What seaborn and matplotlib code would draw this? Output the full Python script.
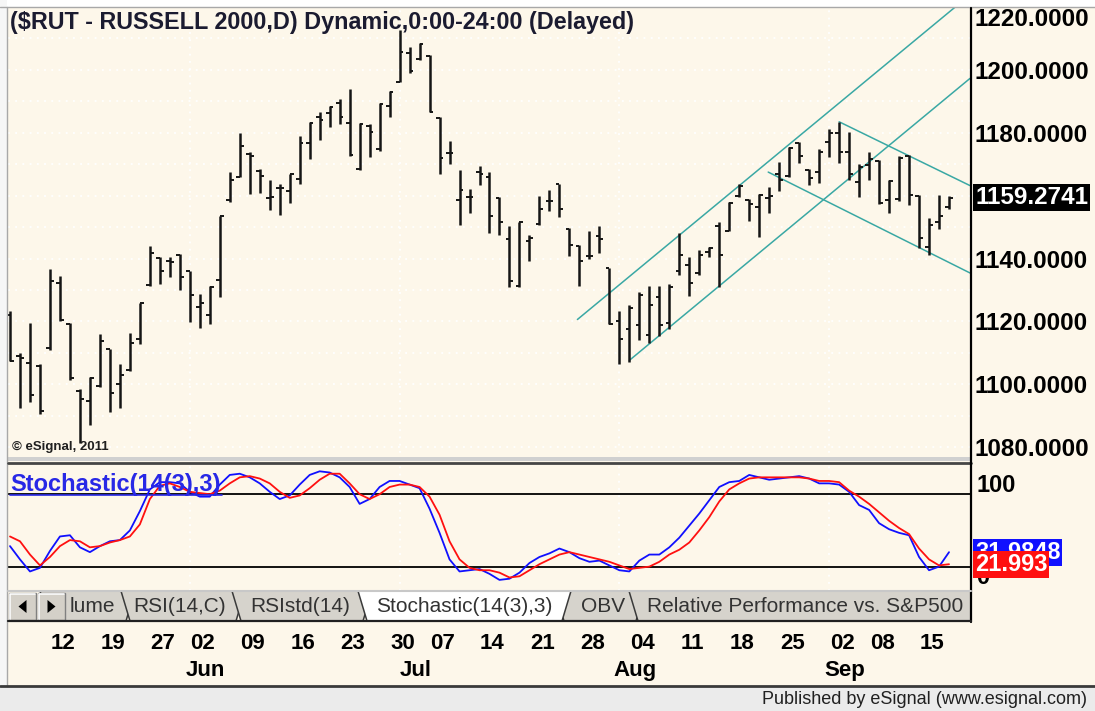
import numpy as np
import pandas as pd
import matplotlib
matplotlib.use("Agg")
import matplotlib.pyplot as plt
import matplotlib.transforms as mtransforms
from matplotlib.patches import Rectangle, Polygon
import seaborn as sns

# trading days on the chart: 5 May - 17 Sep 2014, market holidays dropped
holidays = ["2014-05-26", "2014-07-04", "2014-09-01"]
dates = pd.bdate_range("2014-05-05", "2014-09-17")
dates = dates[~dates.isin(pd.to_datetime(holidays))]

# daily OHLC
opens = [1122.0, 1109.0, 1106.8, 1105.7, 1111.5, 1132.2, 1119.2, 1098.0, 1094.6, 1099.4,
         1111.2, 1100.1, 1104.4, 1114.3, 1131.6, 1140.3, 1139.3, 1141.2, 1136.0, 1124.6,
         1122.0, 1133.3, 1158.5, 1166.0, 1173.2, 1168.0, 1159.1, 1162.3, 1161.4, 1165.4,
         1176.6, 1184.9, 1186.2, 1189.4, 1183.0, 1168.6, 1182.1, 1175.0, 1188.5, 1196.3,
         1205.3, 1203.4, 1204.5, 1184.7, 1173.5, 1158.5, 1159.7, 1167.5, 1165.9, 1159.2,
         1146.2, 1131.3, 1145.7, 1151.0, 1158.3, 1163.6, 1149.4, 1144.1, 1140.7, 1147.3,
         1136.9, 1120.1, 1117.5, 1118.8, 1115.7, 1127.6, 1119.4, 1136.1, 1138.0, 1135.3,
         1142.0, 1150.5, 1148.9, 1160.0, 1158.5, 1156.5, 1159.3, 1166.8, 1166.2, 1176.6,
         1168.3, 1167.5, 1177.1, 1179.8, 1173.9, 1164.3, 1169.6, 1171.0, 1158.7, 1159.0,
         1172.5, 1159.8, 1143.8, 1151.5, 1156.5]
highs = [1123.3, 1110.0, 1119.6, 1106.6, 1136.8, 1134.3, 1119.6, 1098.5, 1102.3, 1115.9,
         1111.3, 1106.6, 1116.4, 1126.0, 1143.9, 1140.6, 1140.6, 1141.4, 1136.1, 1128.7,
         1131.1, 1153.5, 1167.5, 1179.8, 1173.9, 1168.6, 1164.9, 1163.8, 1167.0, 1178.9,
         1183.5, 1186.7, 1188.5, 1190.6, 1193.8, 1183.0, 1182.7, 1189.4, 1193.3, 1212.8,
         1207.3, 1208.5, 1204.8, 1184.9, 1177.4, 1168.3, 1162.2, 1169.4, 1167.5, 1159.5,
         1150.2, 1151.5, 1147.6, 1159.9, 1161.7, 1163.8, 1149.6, 1144.4, 1148.9, 1150.2,
         1136.9, 1123.3, 1125.2, 1129.2, 1131.3, 1131.1, 1131.8, 1148.2, 1140.6, 1142.7,
         1143.8, 1151.5, 1157.9, 1163.8, 1159.0, 1160.4, 1162.9, 1170.7, 1175.5, 1177.1,
         1168.6, 1174.7, 1181.1, 1183.5, 1180.3, 1170.2, 1173.9, 1171.2, 1164.9, 1172.5,
         1172.8, 1160.1, 1152.9, 1160.1, 1159.9]
lows = [1107.3, 1092.4, 1094.2, 1090.6, 1111.0, 1120.1, 1101.5, 1081.2, 1087.1, 1099.1,
        1091.2, 1092.4, 1104.2, 1112.9, 1131.4, 1132.0, 1134.0, 1130.0, 1119.8, 1117.8,
        1119.3, 1127.6, 1157.9, 1165.9, 1160.6, 1160.8, 1155.5, 1153.7, 1157.7, 1163.8,
        1171.8, 1177.6, 1181.9, 1182.7, 1172.6, 1168.3, 1172.3, 1174.2, 1185.1, 1196.1,
        1198.9, 1203.2, 1186.7, 1166.8, 1170.0, 1150.8, 1154.4, 1163.5, 1148.1, 1147.5,
        1130.8, 1131.0, 1139.1, 1150.8, 1155.0, 1153.1, 1140.9, 1131.3, 1139.8, 1141.6,
        1119.3, 1106.5, 1107.1, 1114.0, 1113.2, 1115.3, 1117.5, 1134.8, 1128.1, 1134.8,
        1140.6, 1131.0, 1148.9, 1159.5, 1151.9, 1146.7, 1154.4, 1161.4, 1165.9, 1170.4,
        1163.5, 1164.0, 1172.3, 1170.3, 1165.0, 1159.5, 1165.1, 1157.2, 1154.4, 1158.2,
        1156.9, 1143.5, 1141.2, 1149.4, 1155.8]
closes = [1107.3, 1108.3, 1096.5, 1091.4, 1132.9, 1120.5, 1102.0, 1095.3, 1102.0, 1113.7,
          1097.2, 1102.9, 1113.2, 1126.0, 1141.9, 1136.1, 1139.0, 1134.2, 1128.4, 1125.8,
          1131.0, 1153.4, 1164.9, 1175.8, 1172.6, 1166.1, 1159.7, 1162.3, 1166.8, 1176.6,
          1183.0, 1184.0, 1188.1, 1184.9, 1172.8, 1182.7, 1180.3, 1189.1, 1193.1, 1205.8,
          1199.5, 1208.3, 1186.7, 1172.1, 1173.5, 1161.7, 1159.7, 1166.8, 1153.4, 1151.6,
          1132.9, 1151.5, 1146.4, 1155.8, 1158.3, 1155.8, 1144.3, 1139.3, 1140.7, 1146.2,
          1119.3, 1114.3, 1124.4, 1128.4, 1125.2, 1118.8, 1131.0, 1141.2, 1132.2, 1141.2,
          1143.4, 1141.2, 1157.6, 1163.0, 1157.2, 1160.1, 1160.0, 1165.1, 1175.2, 1172.5,
          1165.7, 1173.9, 1179.8, 1174.0, 1167.0, 1169.1, 1171.8, 1157.6, 1164.6, 1172.1,
          1160.3, 1146.5, 1150.8, 1153.4, 1159.2741]

# Stochastic(14(3),3): %K blue, %D red
stoch_k = [37, 26, 16, 19, 33, 45, 46, 36, 32, 37,
           41, 42, 50, 66, 84, 90, 90, 89, 82, 78,
           78, 88, 96, 97, 94, 89, 82, 76, 79, 88,
           96, 99, 98, 94, 86, 72, 76, 86, 91, 91,
           88, 85, 68, 48, 26, 16, 17, 18, 14, 9,
           10, 15, 23, 28, 31, 35, 32, 27, 24, 25,
           21, 17, 16, 25, 30, 30, 36, 44, 54, 64,
           75, 86, 90, 91, 96, 94, 92, 93, 94, 95,
           93, 89, 89, 88, 82, 71, 67, 56, 51, 48,
           46, 28, 17, 20, 31.9848]
stoch_d = [45, 41, 30, 21, 28, 37, 42, 41, 36, 37,
           40, 42, 45, 55, 76, 87, 89, 86, 82, 81,
           80, 83, 89, 94, 95, 93, 89, 82, 77, 79,
           85, 92, 97, 97, 89, 80, 76, 80, 86, 88,
           88, 86, 78, 63, 41, 26, 19, 17, 17, 15,
           11, 12, 17, 22, 26, 30, 32, 30, 28, 26,
           24, 21, 18, 19, 20, 24, 30, 34, 40, 50,
           61, 74, 84, 89, 93, 94, 94, 94, 94, 94,
           93, 91, 91, 90, 83, 78, 72, 65, 58, 52,
           47, 35, 26, 21, 21.993]
stoch_levels = [80, 20]

# trend channels drawn on the chart (bar index, price)
chan_up_hi_x, chan_up_hi_y = [56.8, 96.1], [1120.6, 1223.9]
chan_up_lo_x, chan_up_lo_y = [62.0, 96.1], [1107.6, 1197.3]
chan_dn_hi_x, chan_dn_hi_y = [83.0, 96.1], [1183.5, 1163.2]
chan_dn_lo_x, chan_dn_lo_y = [75.9, 96.1], [1167.5, 1135.4]

price_ticks = [1080, 1100, 1120, 1140, 1180, 1200]
top_label = 1220
tick_dates = ["2014-05-12", "2014-05-19", "2014-05-27", "2014-06-02", "2014-06-09",
              "2014-06-16", "2014-06-23", "2014-06-30", "2014-07-07", "2014-07-14",
              "2014-07-21", "2014-07-28", "2014-08-04", "2014-08-11", "2014-08-18",
              "2014-08-25", "2014-09-02", "2014-09-08", "2014-09-15"]
tick_labels = ["12", "19", "27", "02", "09", "16", "23", "30", "07", "14",
               "21", "28", "04", "11", "18", "25", "02", "08", "15"]
month_dates = ["2014-06-02", "2014-07-01", "2014-08-01", "2014-09-02"]
month_labels = ["Jun", "Jul", "Aug", "Sep"]
month_ends = ["2014-05-30", "2014-06-30", "2014-07-31", "2014-08-29"]
tabs = ["lume", "RSI(14,C)", "RSIstd(14)", "Stochastic(14(3),3)", "OBV",
        "Relative Performance vs. S&P500"]

sns.set_theme(style="white")
plt.rcParams["font.family"] = ["Liberation Sans", "DejaVu Sans"]

CREAM = "#FDF7EA"
TEAL = "#3AA8A4"
W, H = 1095, 711

fig = plt.figure(figsize=(W / 100, H / 100), dpi=100, facecolor=CREAM)


def fbox(x0, y0, x1, y1):
    # pixel box (top-left origin) -> figure fraction rect
    return [x0 / W, 1 - y1 / H, (x1 - x0) / W, (y1 - y0) / H]


ax = fig.add_axes(fbox(8, 8, 970, 460), facecolor=CREAM)
sax = fig.add_axes(fbox(8, 466, 970, 591), facecolor=CREAM)

x = np.arange(len(dates))
pos = pd.Series(x, index=dates)

# ---- price bars
for a in (ax, sax):
    for d in month_ends:
        a.axvline(pos[d], color="white", ls=(0, (1, 3)), lw=1.3, zorder=0)
for lvl in range(1080, 1221, 10):
    ax.axhline(lvl, color="white", ls=(0, (1, 3)), lw=1.3, zorder=0)

ax.vlines(x, lows, highs, color="#151515", lw=1.8, zorder=3)
ax.hlines(opens, x - 0.38, x, color="#151515", lw=1.4, zorder=3)
ax.hlines(closes, x, x + 0.38, color="#151515", lw=1.4, zorder=3)

for cx, cy in [(chan_up_hi_x, chan_up_hi_y), (chan_up_lo_x, chan_up_lo_y),
               (chan_dn_hi_x, chan_dn_hi_y), (chan_dn_lo_x, chan_dn_lo_y)]:
    ax.plot(cx, cy, color=TEAL, lw=1.1, zorder=2)

ax.set_xlim(-0.2, 96.1)
ax.set_ylim(1075.9, 1219.7)
ax.set_xticks([])
ax.yaxis.tick_right()
ax.set_yticks(price_ticks, [f"{v:.4f}" for v in price_ticks])
ax.tick_params(axis="y", length=0, pad=3, labelsize=17.5, labelcolor="black")
for lbl in ax.get_yticklabels():
    lbl.set_fontweight("bold")
for s in ax.spines.values():
    s.set_visible(False)

right = mtransforms.blended_transform_factory(ax.transAxes, ax.transData)
ax.text(1 + 4 / 962, 1215.9, f"{top_label:.4f}", transform=right, ha="left",
        va="center", fontsize=17.5, fontweight="bold", color="black", clip_on=False)
ax.text(1 + 5 / 962, closes[-1], f"{closes[-1]:.4f}", transform=right, ha="left",
        va="center", fontsize=17.5, fontweight="bold", color="white", clip_on=False,
        bbox=dict(boxstyle="square,pad=0.08", fc="black", ec="none"))

# ---- stochastic panel
stoch = pd.DataFrame({"x": x, "k": stoch_k, "d": stoch_d})
for lvl in stoch_levels:
    sax.axhline(lvl, color="black", lw=1.3, zorder=1)
sns.lineplot(data=stoch, x="x", y="k", ax=sax, color="#1010FF", lw=1.3, zorder=3)
sns.lineplot(data=stoch, x="x", y="d", ax=sax, color="#FF1010", lw=1.3, zorder=4)
sax.set_xlim(-0.2, 96.1)
sax.set_ylim(-0.2, 103.4)
sax.set_yticks([])
sax.set_xlabel("")
sax.set_ylabel("")
for s in sax.spines.values():
    s.set_visible(False)

sax.set_xticks([pos[d] for d in tick_dates], tick_labels)
# month names sit a little right of the first session of the month
sax.set_xticks([pos[d] + 0.3 for d in month_dates], month_labels, minor=True)
sax.tick_params(axis="x", which="major", length=0, pad=30, labelsize=16)
sax.tick_params(axis="x", which="minor", length=0, pad=50, labelsize=16)
shift = mtransforms.ScaledTranslation(3 / 100, 0, fig.dpi_scale_trans)
for lbl in sax.get_xticklabels() + sax.get_xticklabels(minor=True):
    lbl.set_fontweight("bold")
    lbl.set_color("black")
    lbl.set_transform(lbl.get_transform() + shift)

sright = mtransforms.blended_transform_factory(sax.transAxes, sax.transData)
# eSignal draws its 100 / 0 scale labels inset from the panel edges
sax.text(1 + 6 / 962, 87.6, "100", transform=sright, ha="left", va="center",
         fontsize=17, fontweight="bold", color="black", clip_on=False, zorder=2)
sax.text(1 + 6 / 962, 10.6, "0", transform=sright, ha="left", va="center",
         fontsize=17, fontweight="bold", color="black", clip_on=False, zorder=2)
sax.text(1 + 5 / 962, stoch_k[-1], f"{stoch_k[-1]:.4f}", transform=sright, ha="left",
         va="center", fontsize=17, fontweight="bold", color="white", clip_on=False,
         bbox=dict(boxstyle="square,pad=0.08", fc="#1010FF", ec="none"), zorder=5)
sax.text(1 + 5 / 962, stoch_d[-1], f"{stoch_d[-1]:.3f}", transform=sright, ha="left",
         va="center", fontsize=17, fontweight="bold", color="white", clip_on=False,
         bbox=dict(boxstyle="square,pad=0.08", fc="#FF1010", ec="none"), zorder=6)

# ---- window furniture, drawn in pixel coordinates
ov = fig.add_axes([0, 0, 1, 1], zorder=10)
ov.set_xlim(0, W)
ov.set_ylim(H, 0)
ov.axis("off")
ov.patch.set_alpha(0)

ov.add_patch(Rectangle((0, 0), W, 7, fc="white", ec="none"))
ov.plot([0, W], [7, 7], color="#A8A8A8", lw=1)
ov.add_patch(Rectangle((0, 0), 7, H, fc="#F6F6F6", ec="none"))
ov.plot([7, 7], [7, 686], color="#A8A8A8", lw=1)

ov.add_patch(Rectangle((8, 457), 963, 4, fc="#D0D0D0", ec="none"))
ov.plot([8, 971], [463, 463], color="#454545", lw=2)
ov.plot([971, 971], [8, 622], color="black", lw=1.6)

ov.text(10, 22, "($RUT - RUSSELL 2000,D) Dynamic,0:00-24:00 (Delayed)", fontsize=16.8,
        fontweight="bold", color="#1B1B30", ha="left", va="center")
ov.text(12, 447, "\u00a9 eSignal, 2011", fontsize=9.5, fontweight="bold",
        color="#202020", ha="left", va="center")
ov.text(10, 485, "Stochastic(14(3),3)", fontsize=17, fontweight="bold",
        color="#2828E6", ha="left", va="center")
ov.plot([10, 222], [495, 495], color="#2828E6", lw=1.2)

# tab strip
top, bot, sl = 591, 621, 9
ov.add_patch(Rectangle((8, top), 963, bot - top, fc=CREAM, ec="none"))
ov.plot([8, 971], [top, top], color="#C8C8C8", lw=1.5)
tab_x = [(40, 135), (121, 245), (232, 372), (555, 645), (629, 990), (358, 571)]
tab_order = [0, 1, 2, 4, 5, 3]
clip = mtransforms.Bbox.from_extents(*ov.transData.transform((8, H)),
                                     *ov.transData.transform((970, 0)))
for i, (x0, x1) in zip(tab_order, tab_x):
    fc = "white" if i == 3 else "#D6D3CC"
    poly = Polygon([(x0, top), (x1, top), (x1 - sl, bot), (x0 + sl, bot)],
                   closed=True, fc=fc, ec="#3A3A3A", lw=1.1)
    ov.add_patch(poly)
    poly.set_clip_box(clip)
tab_text_x = [70, 180, 300, 464, 603, 647]
tab_ha = ["left", "center", "center", "center", "center", "left"]
for i in tab_order:
    t = ov.text(tab_text_x[i], 606, tabs[i], fontsize=15, color="#333333",
                ha=tab_ha[i], va="center")
    if i == 5:
        t.set_clip_box(clip)
        t.set_clip_on(True)
ov.plot([8, 971], [bot, bot], color="#202020", lw=1.6)

# scroll buttons
for bx, d in [(9, -1), (38, 1)]:
    ov.add_patch(Rectangle((bx, 593), 27, 27, fc="#D4D0C8", ec="#808080", lw=1))
    ov.plot([bx + 1, bx + 1, bx + 26], [619, 594, 594], color="white", lw=1.2)
    cx = bx + 13.5
    ov.add_patch(Polygon([(cx + 4 * d, 606.5), (cx - 4 * d, 600), (cx - 4 * d, 613)],
                         closed=True, fc="black", ec="none"))

# status strip
ov.add_patch(Rectangle((0, 687), W, H - 687, fc="#EBEBEB", ec="none"))
ov.plot([0, W], [686, 686], color="#3A3A3A", lw=2)
ov.text(1087, 699, "Published by eSignal (www.esignal.com)", fontsize=13,
        color="#202020", ha="right", va="center")

fig.savefig("out.png", dpi=100, facecolor=CREAM)
